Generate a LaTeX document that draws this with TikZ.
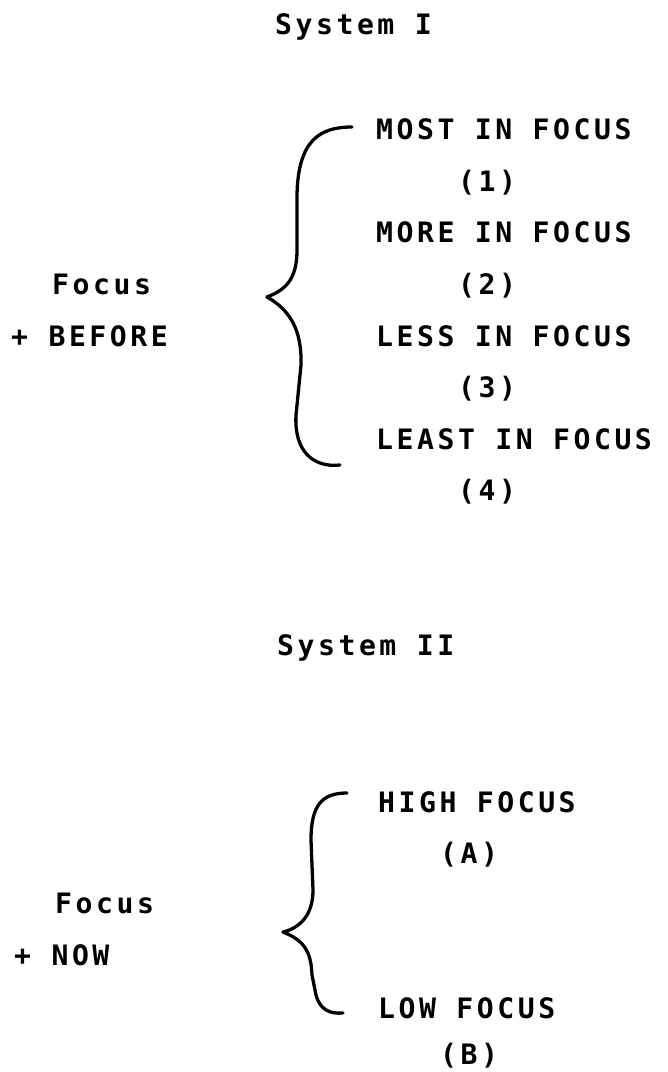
\documentclass[tikz,border=0pt]{standalone}
\usepackage{fontspec}
\newfontfamily\typefont{DejaVu Sans Mono Bold}[LetterSpace=12.5]

\begin{document}
\begin{tikzpicture}[x=0.03cm, y=-0.03cm, line cap=round, line join=round,
    txt/.style={anchor=base west, inner sep=0pt, font=\typefont\fontsize{24}{28}\selectfont},
    brace/.style={line width=2.8pt}]
    \useasboundingbox (0,0) rectangle (667,1072);

    % System I
    \node[txt] (sysone) at (275,35) {System I};
    \node[txt] (most) at (376,140) {MOST IN FOCUS};
    \node[txt] (one) at (458,191.5) {(1)};
    \node[txt] (more) at (376,243) {MORE IN FOCUS};
    \node[txt] (two) at (458,294.5) {(2)};
    \node[txt] (less) at (376,346) {LESS IN FOCUS};
    \node[txt] (three) at (458,397.5) {(3)};
    \node[txt] (least) at (376,449) {LEAST IN FOCUS};
    \node[txt] (four) at (458,500.5) {(4)};
    \node[txt] (focusone) at (52,294.5) {Focus};
    \node[txt] (before) at (11,346) {+ BEFORE};
    \draw[brace] (352,127) .. controls (320,127) and (298,140) .. (297,195)
        -- (297,250) .. controls (297,280) and (285,290) .. (267,297)
        .. controls (290,310) and (302,330) .. (301,365)
        -- (296,415) .. controls (294,450) and (312,468) .. (340,465);

    % System II
    \node[txt] (systwo) at (277,655) {System II};
    \node[txt] (high) at (378,812) {HIGH FOCUS};
    \node[txt] (a) at (440,863.5) {(A)};
    \node[txt] (low) at (378,1018) {LOW FOCUS};
    \node[txt] (b) at (440,1064) {(B)};
    \node[txt] (focustwo) at (55,913) {Focus};
    \node[txt] (now) at (14,965) {+ NOW};
    \draw[brace] (347,793) .. controls (322,793) and (311,805) .. (311,840)
        -- (313,890) .. controls (313,915) and (300,928) .. (283,932)
        .. controls (303,940) and (311,950) .. (312,975)
        -- (316,995) .. controls (320,1010) and (330,1014) .. (343,1013);
\end{tikzpicture}
\end{document}
